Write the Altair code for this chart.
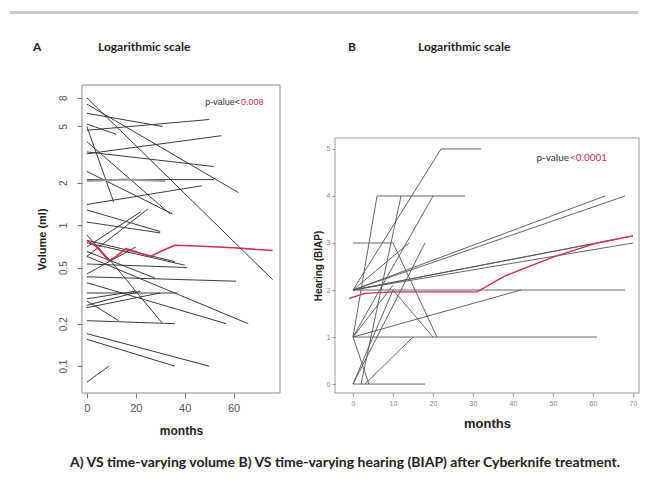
import altair as alt
import pandas as pd

# ---------------- Panel A: tumour volume (ml), log scale ----------------
a_id = [1, 1, 2, 2, 3, 3, 4, 4, 5, 5, 6, 6, 7, 7, 8, 8, 9, 9, 10, 10,
        12, 12, 13, 13, 14, 14, 15, 15, 16, 16, 17, 17, 18, 18, 19, 19,
        20, 20, 21, 21, 22, 22, 23, 23, 24, 24, 25, 25, 26, 26, 27, 27,
        28, 28, 28, 29, 29, 30, 30, 31, 31, 32, 32, 33, 33, 34, 34, 35, 35]
a_month = [0, 76, 0, 62, 0, 31, 0, 50, 0, 12, 0, 11, 0, 34, 0, 52, 0, 55, 0, 52,
           0, 47, 0, 35, 0, 30, 0, 30, 0, 22, 0, 25, 0, 41, 0, 36,
           0, 61, 0, 57, 0, 66, 0, 37, 0, 20, 0, 22, 0, 36, 0, 13,
           0, 10, 31, 0, 50, 0, 36, 0, 9, 0, 20, 0, 40, 0, 28, 0, 30]
a_volume = [8.0, 0.41, 7.2, 1.7, 6.2, 5.0, 4.7, 5.6, 5.2, 4.4, 5.0, 1.45, 3.9, 1.2,
            3.3, 2.6, 3.2, 4.3, 2.1, 2.1,
            1.4, 1.9, 2.4, 1.2, 1.28, 0.9, 1.05, 0.88, 0.7, 1.24, 0.6, 1.3,
            0.53, 0.5, 0.78, 0.55,
            0.43, 0.40, 0.39, 0.20, 0.6, 0.20, 0.33, 0.33, 0.30, 0.34, 0.27, 0.34,
            0.21, 0.20, 0.29, 0.21,
            0.85, 0.55, 0.20, 0.17, 0.10, 0.155, 0.10, 0.077, 0.10, 0.45, 0.7,
            0.75, 0.52, 0.65, 0.42, 0.26, 0.33]
# one lighter, thicker trajectory
a_grey_month = [0, 16, 32]
a_grey_volume = [2.05, 2.1, 2.05]
# mean trajectory (red)
a_mean_month = [0, 4, 9, 12, 16, 21, 26, 31, 36, 45, 60, 76]
a_mean_volume = [0.78, 0.70, 0.56, 0.60, 0.68, 0.64, 0.60, 0.66, 0.72, 0.71, 0.69, 0.66]

# ---------------- Panel B: hearing (BIAP) ----------------
b_id = [1, 1, 1, 2, 2, 2, 3, 3, 3, 4, 4, 5, 5, 6, 6, 7, 7, 8, 8, 9, 9,
        10, 10, 11, 11, 12, 12, 13, 13, 14, 14, 15, 15, 16, 16, 17, 17,
        18, 18, 19, 19, 20, 20, 21, 21]
b_month = [0, 22, 32, 0, 6, 28, 0, 10, 21, 2, 12, 0, 20, 0, 18, 0, 63, 0, 68, 0, 61,
           0, 70, 0, 68, 0, 61, 0, 18, 0, 42, 0, 10, 3, 15, 0, 10,
           0, 4, 10, 20, 0, 14, 0, 70]
b_hearing = [2, 5, 5, 1, 4, 4, 3, 3, 1, 0, 4, 1, 4, 0, 3, 2, 4, 2, 4, 2, 3,
             2, 3.15, 2, 2, 1, 1, 0, 0, 1, 2, 1, 2.1, 0, 1, 0, 2,
             1, 0, 2, 1, 2, 3, 2, 3]
b_mean_month = [-1, 3, 10, 20, 31, 38, 50, 61, 70]
b_mean_hearing = [1.82, 1.93, 1.96, 1.96, 1.96, 2.3, 2.7, 3.0, 3.15]

# ---------------- texts ----------------
caption = "A) VS time-varying volume B) VS time-varying hearing (BIAP) after Cyberknife treatment."
heading = "Logarithmic scale"

df_a = pd.DataFrame({"id": a_id, "month": a_month, "volume": a_volume})
df_a_grey = pd.DataFrame({"month": a_grey_month, "volume": a_grey_volume})
df_a_mean = pd.DataFrame({"month": a_mean_month, "volume": a_mean_volume})
df_b = pd.DataFrame({"id": b_id, "month": b_month, "hearing": b_hearing})
df_b_mean = pd.DataFrame({"month": b_mean_month, "hearing": b_mean_hearing})
one = pd.DataFrame({"k": [0]})

AXFONT = "Liberation Sans"
TXFONT = "Lato"
RED = "#d82c4c"

WA, HA = 198, 308
WB, HB = 304, 308

xa = alt.X("month:Q", scale=alt.Scale(domain=[-2, 79], nice=False, zero=False),
           axis=alt.Axis(values=[0, 20, 40, 60], title="months", grid=False, domain=False,
                         tickSize=5, tickColor="#777", labelPadding=4, labelFont=AXFONT,
                         labelFontSize=11, labelColor="#555", titleFont=AXFONT,
                         titleFontSize=12, titleFontWeight="bold", titleColor="#222",
                         titleY=37, titleBaseline="middle"))
ya = alt.Y("volume:Q", scale=alt.Scale(type="log", domain=[0.0645, 9.84], nice=False),
           axis=alt.Axis(values=[0.1, 0.2, 0.5, 1, 2, 5, 8], format="~g", grid=False,
                         domain=False, tickSize=5, tickColor="#777", labelAngle=270,
                         labelAlign="center", labelBaseline="bottom", labelPadding=9,
                         labelFont=AXFONT, labelFontSize=10, labelColor="#555",
                         title="Volume (ml)", titleAngle=270, titleX=-40, titleY=154,
                         titleAlign="center", titleBaseline="middle", titleFont=AXFONT,
                         titleFontSize=11, titleFontWeight="bold", titleColor="#222"))

lines_a = alt.Chart(df_a).mark_line(color="#3c3c3c", strokeWidth=1).encode(
    x=xa, y=ya, detail="id:N")
grey_a = alt.Chart(df_a_grey).mark_line(color="#9a9a9a", strokeWidth=2).encode(
    x="month:Q", y="volume:Q")
mean_a = alt.Chart(df_a_mean).mark_line(color=RED, strokeWidth=1.6).encode(
    x="month:Q", y="volume:Q")

frame_a = alt.Chart(one).mark_rect(fillOpacity=0, stroke="#8a8a8a", strokeWidth=1).encode(
    x=alt.value(0), x2=alt.value(WA), y=alt.value(0), y2=alt.value(HA))
topbar = alt.Chart(one).mark_rect(fill="#cbcbcb").encode(
    x=alt.value(-72), x2=alt.value(556), y=alt.value(-74), y2=alt.value(-71))


def label(text, x, y, size, color="#222", font=TXFONT, weight="normal", align="left"):
    return alt.Chart(pd.DataFrame({"t": [text]})).mark_text(
        font=font, fontSize=size, fontWeight=weight, color=color, align=align,
        baseline="middle").encode(x=alt.value(x), y=alt.value(y), text="t:N")


texts_a = [
    label("A", -49, -38, 12, weight="bold"),
    label(heading, 16, -38, 12, weight="bold"),
    label("p-value<", 158, 17, 9, color="#333", font=AXFONT, align="right"),
    label("0.008", 159, 17, 9, color=RED, font=AXFONT),
    label(caption, -12, 378, 14, weight="bold"),
]

panel_a = alt.layer(topbar, frame_a, lines_a, grey_a, mean_a, *texts_a).properties(
    width=WA, height=HA)

xb = alt.X("month:Q", scale=alt.Scale(domain=[-4.5, 71.5], nice=False, zero=False),
           axis=alt.Axis(values=[0, 10, 20, 30, 40, 50, 60, 70], title="months", grid=False,
                         domain=False, tickSize=3, tickColor="#999", labelPadding=3,
                         labelFont=AXFONT, labelFontSize=7, labelColor="#888",
                         titleFont=AXFONT, titleFontSize=13, titleFontWeight="bold",
                         titleColor="#222", titleY=30, titleBaseline="middle"))
yb = alt.Y("hearing:Q", scale=alt.Scale(domain=[-0.19, 6.36], nice=False, zero=False),
           axis=alt.Axis(values=[0, 1, 2, 3, 4, 5], grid=False, domain=False, tickSize=3,
                         tickColor="#999", labelPadding=2, labelFont=AXFONT,
                         labelFontSize=7, labelColor="#888", title="Hearing (BIAP)",
                         titleAngle=270, titleX=-17, titleY=180.5, titleAlign="center",
                         titleBaseline="middle", titleFont=AXFONT, titleFontSize=10,
                         titleFontWeight="bold", titleColor="#222"))

lines_b = alt.Chart(df_b).mark_line(color="#555555", strokeWidth=0.9).encode(
    x=xb, y=yb, detail="id:N")
mean_b = alt.Chart(df_b_mean).mark_line(color=RED, strokeWidth=1.3).encode(
    x="month:Q", y="hearing:Q")
frame_b = alt.Chart(one).mark_rect(fillOpacity=0, stroke="#9a9a9a", strokeWidth=1).encode(
    x=alt.value(0), x2=alt.value(WB), y=alt.value(53), y2=alt.value(HB))

texts_b = [
    label("B", 13, -38, 12, weight="bold"),
    label(heading, 83, -38, 12, weight="bold"),
    label("p-value ", 234, 73, 10, color="#333", align="right"),
    label("<0.0001", 235, 73, 10, color=RED),
]

panel_b = alt.layer(frame_b, lines_b, mean_b, *texts_b).properties(width=WB, height=HB)

chart = alt.hconcat(panel_a, panel_b, spacing=55, bounds="flush").properties(
    padding={"left": 2, "top": 3, "right": 2, "bottom": 4},
    background="white",
).configure_view(strokeWidth=0)

chart.save("out.html", embed_options={"renderer": "svg", "actions": False})
